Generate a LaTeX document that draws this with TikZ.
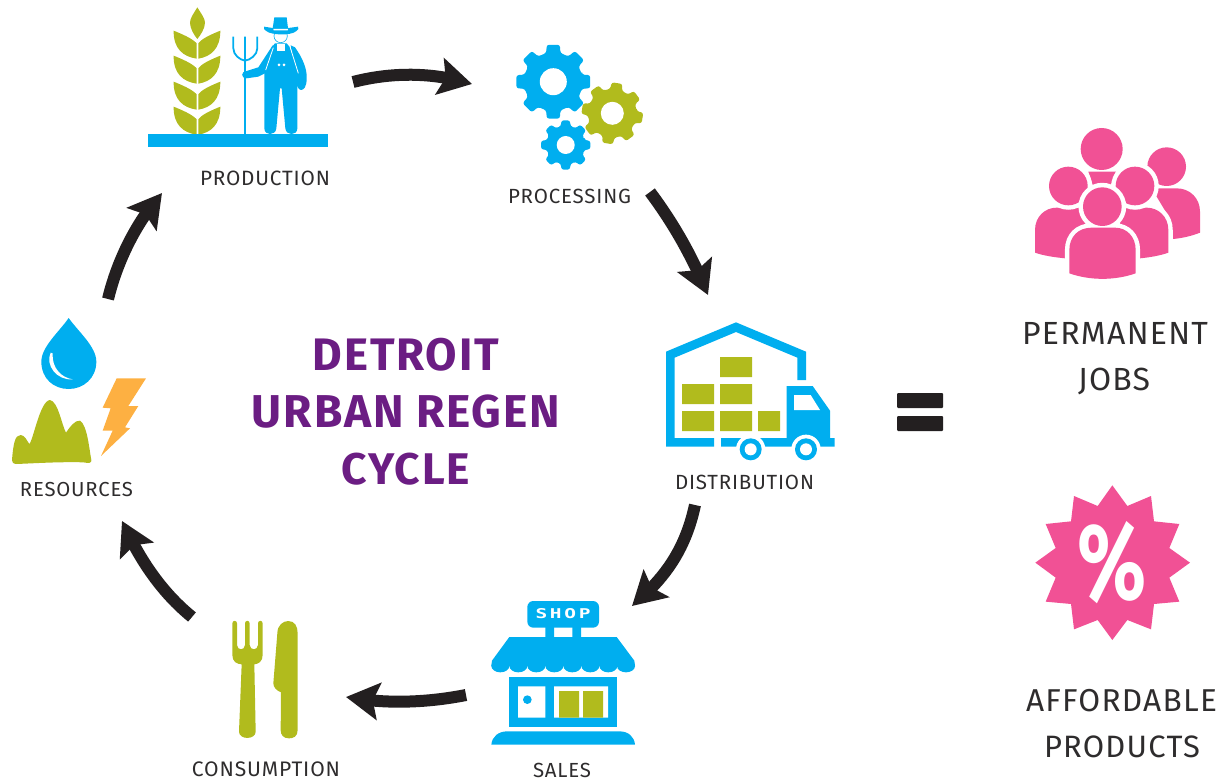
\documentclass[tikz,border=0pt]{standalone}
\usepackage{fontspec}
\usepackage{graphicx}
\usetikzlibrary{arrows.meta,bending}
\setmainfont{Fira Sans}
\newfontfamily\labfont[LetterSpace=4]{Fira Sans}
\newfontfamily\ttlfont[LetterSpace=4]{Fira Sans Bold}
\newfontfamily\shopfont[LetterSpace=14]{DejaVu Sans Mono Bold}
\newfontfamily\pctfont{Fira Sans Bold}
\definecolor{iblue}{HTML}{00AEEF}
\definecolor{igreen}{HTML}{B1BB1D}
\definecolor{ipink}{HTML}{F15195}
\definecolor{iorange}{HTML}{FDB042}
\definecolor{iblack}{HTML}{231F20}
\definecolor{ipurple}{HTML}{6B1D83}
\definecolor{itext}{HTML}{2E2C2D}
\newcommand{\fitw}[2]{\resizebox{#1pt}{!}{#2}}
\newcommand{\gearat}[7]{% cx cy R r hole rot colour
  \fill[#7,rounded corners=2.4pt] ({#1+#4*cos(#6+31-45)},{#2+#4*sin(#6+31-45)})
    \foreach \ga in {0,45,...,315} {
      -- ({#1+#3*cos(\ga+#6-10)},{#2+#3*sin(\ga+#6-10)})
      -- ({#1+#3*cos(\ga+#6+10)},{#2+#3*sin(\ga+#6+10)})
      -- ({#1+#4*cos(\ga+#6+14)},{#2+#4*sin(\ga+#6+14)})
      -- ({#1+#4*cos(\ga+#6+31)},{#2+#4*sin(\ga+#6+31)})
    } -- cycle;
  \fill[white] (#1,#2) circle[radius=#5];
}
\newcommand{\leafpair}[1]{% y of the outer top of a pair, zoom coordinates
  \fill[igreen] (101,#1) .. controls (125,{#1+10}) and (155,{#1+22}) .. (170,{#1+38}) -- (170,{#1+84})
     .. controls (130,{#1+78}) and (100,{#1+55}) .. cycle;
  \fill[igreen] (241,#1) .. controls (217,{#1+10}) and (187,{#1+22}) .. (175,{#1+38}) -- (175,{#1+84})
     .. controls (212,{#1+78}) and (241,{#1+55}) .. cycle;
}
\def\bodyleft{(110,263) -- (200,263) -- (200,420) -- (135,415) .. controls (105,412) and (70,407) .. (45,398) -- (45,330)
     .. controls (45,290) and (75,263) .. cycle}
\def\bodyright{(300,263) -- (380,263) .. controls (415,263) and (445,290) .. (445,330) -- (445,398)
     .. controls (420,407) and (390,412) .. (360,415) -- (300,420) -- cycle}
\def\bodyfront{(215,323) -- (285,323) .. controls (320,323) and (347,350) .. (347,390) -- (347,460)
     .. controls (285,482) and (210,482) .. (148,460) -- (148,390) .. controls (148,350) and (175,323) .. cycle}
\tikzset{
  zoomat/.style 2 args={shift={(#1,#2)},scale=1/3},
  flow/.style={draw=iblack,line width=12pt,-{Stealth[length=33pt,width=37pt,inset=6pt,flex]}},
  labelnode/.style={inner sep=0pt,text=itext,font=\labfont},
  titlenode/.style={inner sep=0pt,text=ipurple,font=\ttlfont},
  bignode/.style={inner sep=0pt,text=itext,font=\labfont},
  halo/.style={draw=white,line width=8.8pt},
}
\begin{document}
\begin{tikzpicture}[x=1pt,y=-1pt]
\useasboundingbox (0,0) rectangle (1222,783);
% ---------- production
\begin{scope}[zoomat={140}{0}]
  \fill[igreen] (172,22) .. controls (160,42) and (150,55) .. (150,68) .. controls (150,85) and (162,105) .. (172,117)
     .. controls (182,105) and (195,85) .. (195,68) .. controls (195,55) and (184,42) .. cycle;
  \leafpair{92}\leafpair{167}\leafpair{245}\leafpair{320}
  \fill[iblue] (24,402) rectangle (564,440);
\end{scope}
\begin{scope}[zoomat={230}{10}]
  % pitchfork
  \draw[iblue,line width=2.2pt] (45,150) -- (45,372);
  \draw[iblue,line width=1.8pt] (45,80) -- (45,155)
     (10,80) -- (10,115) .. controls (10,135) and (30,150) .. (45,152)
     .. controls (60,150) and (82,135) .. (82,115) -- (82,80);
  % arms
  \fill[iblue] (128,106) -- (85,172) -- (50,183) .. controls (32,183) and (32,206) .. (50,205)
     -- (85,200) -- (105,190) -- (135,125) -- cycle;
  \fill[iblue] (182,106) -- (195,112) .. controls (215,140) and (232,175) .. (230,205)
     .. controls (230,230) and (222,240) .. (213,240) .. controls (205,240) and (198,225) .. (198,210) -- cycle;
  % overalls
  \fill[iblue] (135,100) -- (170,100) -- (180,112) -- (202,185) -- (202,355)
     .. controls (202,378) and (168,378) .. (166,355) -- (155,235) -- (150,235) -- (139,355)
     .. controls (137,378) and (103,378) .. (103,355) -- (103,185) -- (125,112) -- cycle;
  \draw[white,line width=.8pt] (130,113) -- (107,180) (180,110) -- (205,190);
  \fill[white] (140,103) rectangle (165,124);
  \fill[white] (147,165) circle[radius=4.5] (162,165) circle[radius=4.5];
  % head and hat
  \filldraw[fill=white,draw=iblue,line width=.6pt] (152,78) circle[radius=20];
  \fill[iblue] (133,22) -- (170,22) -- (174,55) -- (128,55) -- cycle;
  \fill[iblue] (102,50) .. controls (98,55) and (104,60) .. (110,64) .. controls (125,75) and (180,78) .. (198,64)
     .. controls (205,60) and (208,55) .. (204,50) .. controls (195,50) and (185,54) .. (175,54) -- (128,54)
     .. controls (120,54) and (110,50) .. cycle;
  \fill[white] (130,57) -- (174,57) -- (173,61) -- (131,61) -- cycle;
\end{scope}
% ---------- processing
\gearat{553.3}{81.7}{37.5}{29.5}{13.5}{0}{iblue}
\gearat{612.3}{113.3}{31}{24.5}{11.5}{9}{igreen}
\gearat{565.7}{145}{25}{19.5}{9}{0}{iblue}
% ---------- distribution
\begin{scope}[zoomat={650}{310}]
  \fill[iblue] (48,410) -- (48,125) -- (258,37) -- (468,125) -- (468,210) -- (442,210) -- (442,143) -- (258,66)
     -- (74,143) -- (74,384) -- (192,384) -- (192,410) -- cycle;
  \fill[iblue] (213,384) -- (410,384) -- (410,228) -- (488,228) -- (540,302) -- (540,384) -- (554,384) -- (554,410)
     -- (213,410) -- cycle;
  \fill[white] (432,255) -- (482,255) -- (510,300) -- (432,300) -- cycle;
  \fill[igreen] (96,222) rectangle (192,282) (96,303) rectangle (192,363) (210,141) rectangle (306,201)
     (210,222) rectangle (306,282) (210,303) rectangle (306,363) (324,303) rectangle (390,363);
  \foreach \wx in {302,468} {
    \fill[white] (\wx,418) circle[radius=44];
    \fill[iblue] (\wx,418) circle[radius=33];
    \fill[white] (\wx,418) circle[radius=18];
  }
\end{scope}
% ---------- sales
\begin{scope}[zoomat={480}{590}]
  \fill[iblue,rounded corners=6pt] (142,33) rectangle (357,113);
  \fill[iblue] (196,110) rectangle (222,142) (277,110) rectangle (303,142);
  \fill[iblue] (88,141) -- (410,141) -- (463,212) -- (465,228) -- (34,228) -- (36,212) -- cycle;
  \foreach \sx in {61,115,169,223,277,331,385,438} {
    \fill[iblue] (\sx,228) ellipse[x radius=27,y radius=19];
  }
  \fill[iblue] (88,262) rectangle (411,410);
  \fill[white] (114,289) rectangle (196,383) (222,289) rectangle (384,383);
  \fill[iblue] (142,329) circle[radius=13];
  \fill[igreen] (237,303) rectangle (297,383) (309,303) rectangle (369,383);
  \fill[iblue] (34,464) .. controls (36,440) and (55,424) .. (82,424) -- (418,424)
     .. controls (445,424) and (463,440) .. (465,464) -- cycle;
  \node[inner sep=0pt,text=white,font=\shopfont] (shoptext) at (249,70) {\resizebox{55pt}{10pt}{SHOP}};
\end{scope}
% ---------- consumption
\begin{scope}[zoomat={220}{610}]
  \fill[igreen] (37,40) .. controls (37,30) and (51,30) .. (51,40) -- (51,105) .. controls (52,122) and (74,122) .. (75,105)
     -- (75,40) .. controls (75,30) and (89,30) .. (89,40) -- (89,105) .. controls (90,122) and (113,122) .. (114,105)
     -- (114,40) .. controls (114,30) and (128,30) .. (128,40) -- (128,135) .. controls (128,155) and (115,162) .. (103,163)
     -- (107,365) .. controls (107,390) and (57,390) .. (57,365) -- (65,163) .. controls (50,162) and (37,155) .. (37,135) -- cycle;
  \fill[igreen] (172,70) .. controls (172,45) and (190,33) .. (205,33) .. controls (225,33) and (233,50) .. (233,70)
     -- (233,360) .. controls (233,380) and (220,385) .. (207,385) .. controls (190,385) and (182,375) .. (182,360)
     -- (183,247) .. controls (170,242) and (160,232) .. (160,220) -- cycle;
\end{scope}
% ---------- resources
\begin{scope}[zoomat={0}{310}]
  \fill[iblue] (206,24) .. controls (235,65) and (289,110) .. (289,155) .. controls (289,205) and (250,237) .. (206,237)
     .. controls (160,237) and (124,205) .. (124,155) .. controls (124,110) and (178,65) .. cycle;
  \fill[white] (152,128) .. controls (135,165) and (170,212) .. (218,208) .. controls (185,203) and (155,175) .. (158,130) -- cycle;
  \fill[igreen] (36,450) .. controls (40,400) and (45,375) .. (62,375) .. controls (75,375) and (82,395) .. (88,402)
     .. controls (100,390) and (120,272) .. (150,270) .. controls (175,275) and (185,345) .. (198,368)
     .. controls (210,350) and (225,330) .. (240,332) .. controls (262,345) and (268,420) .. (274,450)
     .. controls (276,460) and (265,460) .. (250,457) .. controls (180,455) and (100,460) .. (50,462)
     .. controls (38,462) and (36,455) .. (36,450) -- cycle;
  \fill[iorange] (350,205) -- (438,205) -- (385,288) -- (415,288) -- (375,352) -- (390,355) -- (303,438) -- (338,362)
     -- (308,362) -- (332,295) -- (308,293) -- cycle;
\end{scope}
% ---------- people
\begin{scope}[zoomat={1020}{120}]
  \fill[ipink] (440,140) circle[radius=58];
  \fill[ipink] (395,205) -- (470,205) .. controls (510,205) and (540,235) .. (540,275) -- (540,338)
     .. controls (515,348) and (485,355) .. (458,357) -- (440,280) -- cycle;
  \fill[ipink] (245,87) circle[radius=63];
  \fill[ipink] (205,155) -- (288,155) -- (270,200) -- (220,200) -- cycle;
  \draw[halo] \bodyleft;
  \fill[ipink] \bodyleft;
  \draw[halo] (145,198) circle[radius=58];
  \fill[ipink] (145,198) circle[radius=58];
  \draw[halo] \bodyright;
  \fill[ipink] \bodyright;
  \draw[halo] (345,198) circle[radius=58];
  \fill[ipink] (345,198) circle[radius=58];
  \draw[halo] \bodyfront;
  \draw[white,line width=4.4pt] (247,260) circle[radius=65];
  \fill[white] (247,260) circle[radius=60];
  \fill[ipink] \bodyfront;
  \fill[ipink] (247,260) circle[radius=58];
\end{scope}
% ---------- percent badge
\begin{scope}[zoomat={1020}{480}]
  \fill[ipink] (277,16) -- (322,78) -- (393,48) -- (402,124) -- (478,132) -- (448,204) -- (510,248) -- (448,293) -- (478,365)
     -- (402,372) -- (393,448) -- (322,420) -- (277,480) -- (233,420) -- (162,448) -- (153,372) -- (77,365) -- (107,293)
     -- (46,248) -- (107,204) -- (77,132) -- (153,124) -- (162,48) -- (233,78) -- cycle;
  \node[inner sep=0pt,text=white,font=\pctfont] (percent) at (277,248) {\resizebox{69pt}{78pt}{\%}};
\end{scope}
% ---------- equals
\fill[iblack,rounded corners=1pt] (897,393) rectangle (943,408);
\fill[iblack,rounded corners=1pt] (897,416) rectangle (943,431);
% ---------- texts
\node[labelnode] (production) at (265,178) {\fitw{130}{PRODUCTION}};
\node[labelnode] (processing) at (569.5,196) {\fitw{123}{PROCESSING}};
\node[labelnode] (distribution) at (744.5,482) {\fitw{139}{DISTRIBUTION}};
\node[labelnode] (sales) at (562,770) {\fitw{58}{SALES}};
\node[labelnode] (consumption) at (266,769) {\fitw{148}{CONSUMPTION}};
\node[labelnode] (resources) at (76.5,490) {\fitw{113}{RESOURCES}};
\node[bignode] (permanent) at (1115,333) {\fitw{186}{PERMANENT}};
\node[bignode] (jobs) at (1114,381) {\fitw{72}{JOBS}};
\node[bignode] (affordable) at (1121.5,701) {\fitw{191}{AFFORDABLE}};
\node[bignode] (products) at (1122,747) {\fitw{156}{PRODUCTS}};
\node[titlenode] (t1) at (406,355) {\fitw{186}{DETROIT}};
\node[titlenode] (t2) at (406,412) {\fitw{308}{URBAN REGEN}};
\node[titlenode] (t3) at (406,469) {\fitw{128}{CYCLE}};
% ---------- connectors
\coordinate (s1) at (353,82);   \coordinate (e1) at (472,84);
\coordinate (s2) at (650,192);  \coordinate (e2) at (708,295);
\coordinate (s3) at (695,505);  \coordinate (e3) at (632,606);
\coordinate (s4) at (466,695);  \coordinate (e4) at (346,697);
\coordinate (s5) at (192,617);  \coordinate (e5) at (122,521);
\coordinate (s6) at (108,299);  \coordinate (e6) at (162,193);
\draw[flow] (s1) .. controls (392,72) and (432,72) .. (e1);
\draw[flow] (s2) .. controls (677,228) and (695,263) .. (e2);
\draw[flow] (s3) .. controls (685,551) and (664,579) .. (e3);
\draw[flow] (s4) .. controls (425,703) and (385,704) .. (e4);
\draw[flow] (s5) .. controls (165,595) and (142,565) .. (e5);
\draw[flow] (s6) .. controls (117,262) and (135,224) .. (e6);
\end{tikzpicture}
\end{document}
